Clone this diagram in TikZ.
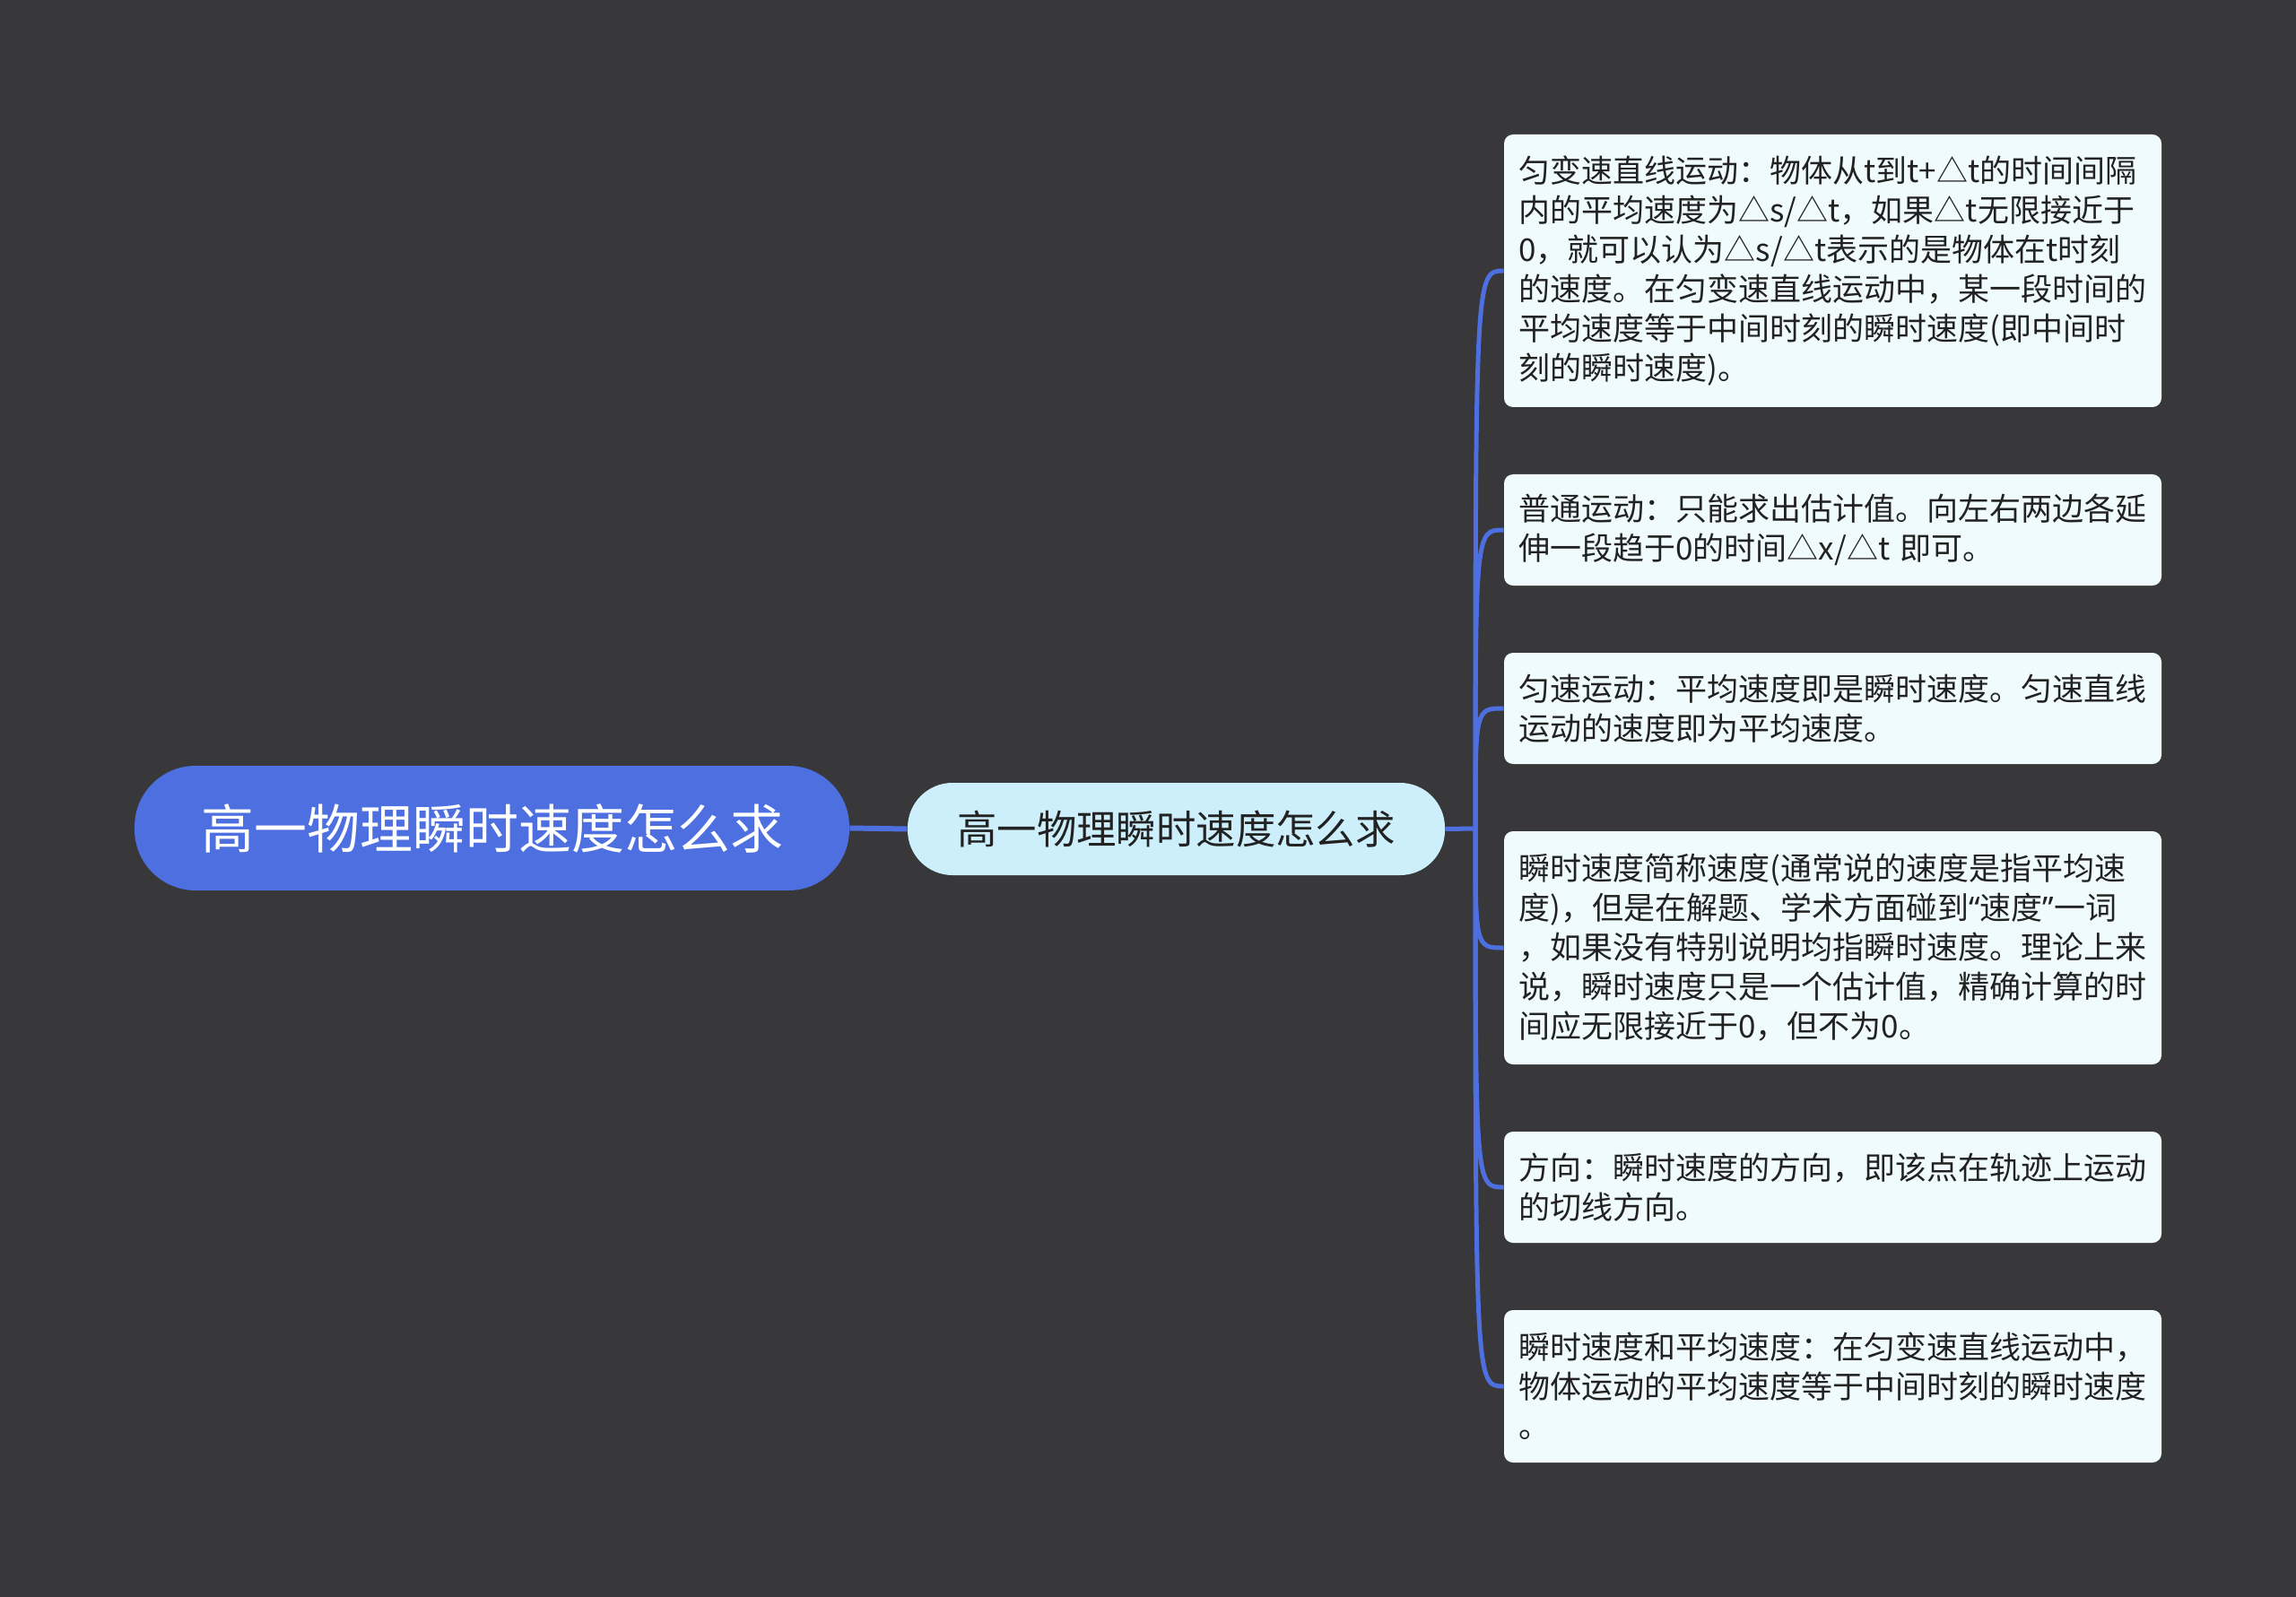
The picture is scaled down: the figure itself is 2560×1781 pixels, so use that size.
\documentclass[tikz,border=0pt]{standalone}
\usepackage{fontspec}
\setmainfont{Noto Sans CJK SC}
\newfontfamily\latinq{Noto Sans}
\definecolor{bgc}{HTML}{38383A}
\definecolor{rootc}{HTML}{4D6FE0}
\definecolor{midc}{HTML}{CDEFFC}
\definecolor{leafc}{HTML}{F0FBFD}
\definecolor{connc}{HTML}{4D6FE0}
\definecolor{txtc}{HTML}{222222}
\begin{document}
\begin{tikzpicture}[x=0.5pt,y=-0.5pt,
  rootbox/.style={rectangle,rounded corners=34pt,fill=rootc,text=white,
    minimum width=398.5pt,minimum height=69.5pt,inner sep=0pt,
    font=\fontsize{29.5pt}{34pt}\selectfont},
  midbox/.style={rectangle,rounded corners=25pt,fill=midc,text=txtc,
    minimum width=299.5pt,minimum height=51.5pt,inner sep=0pt,
    font=\fontsize{22.2pt}{26pt}\selectfont},
  leaf/.style={rectangle,rounded corners=5pt,fill=leafc,text=txtc,
    minimum width=366.5pt,text width=350pt,inner xsep=8.25pt,inner ysep=0pt,
    align=left,font=\fontsize{17.5pt}{22pt}\selectfont},
  conn/.style={draw=connc,line width=2.5pt},
  rootconn/.style={draw=connc,line width=3pt}]
\fill[bgc] (0,0) rectangle (2560,1781);
\useasboundingbox (0,0) rectangle (2560,1781);

\node[rootbox] (root) at (548.5,923.5) {高一物理瞬时速度怎么求};
\node[midbox] (mid) at (1311.5,924.5) {高一物理瞬时速度怎么求};

\node[leaf,minimum height=152pt] (b1) at (2043.5,302) {匀变速直线运动：物体从t到t+△t的时间间隔\\内的平均速度为△s/△t，如果△t无限接近于\\0，就可以认为△s/△t表示的是物体在t时刻\\的速度。在匀变速直线运动中，某一段时间的\\平均速度等于中间时刻的瞬时速度(即中间时\\刻的瞬时速度)。};
\node[leaf,minimum height=62pt] (b2) at (2043.5,591) {普通运动：只能求出估计值。向左右两边各延\\伸一段趋于0的时间△x/△t 即可。};
\node[leaf,minimum height=62pt] (b3) at (2043.5,790) {匀速运动：平均速度即是瞬时速度。匀速直线\\运动的速度即为平均速度。};
\node[leaf,minimum height=130pt] (b4) at (2043.5,1057) {瞬时速度简称速度(通常说的速度是指平均速\\度)，但是在解题、学术方面碰到{\latinq “}速度{\latinq ”}一词\\，如果没有特别说明均指瞬时速度。理论上来\\说，瞬时速度只是一个估计值，精确计算的时\\间应无限接近于0，但不为0。};
\node[leaf,minimum height=62pt] (b5) at (2043.5,1324) {方向：瞬时速度的方向，即该点在轨迹上运动\\的切线方向。};
\node[leaf,minimum height=85pt] (b6) at (2043.5,1546) {瞬时速度和平均速度：在匀变速直线运动中，\\物体运动的平均速度等于中间时刻的瞬时速度\\。};

\coordinate (j) at (1645,924);
\draw[rootconn] (root.east) -- (mid.west);
\draw[conn] (mid.east) -- (j);
\foreach \b in {b1,b2,b3,b4,b5,b6}
  \draw[conn] (j) .. controls (j |- \b.west) and (j |- \b.west) .. (\b.west);
\end{tikzpicture}
\end{document}
